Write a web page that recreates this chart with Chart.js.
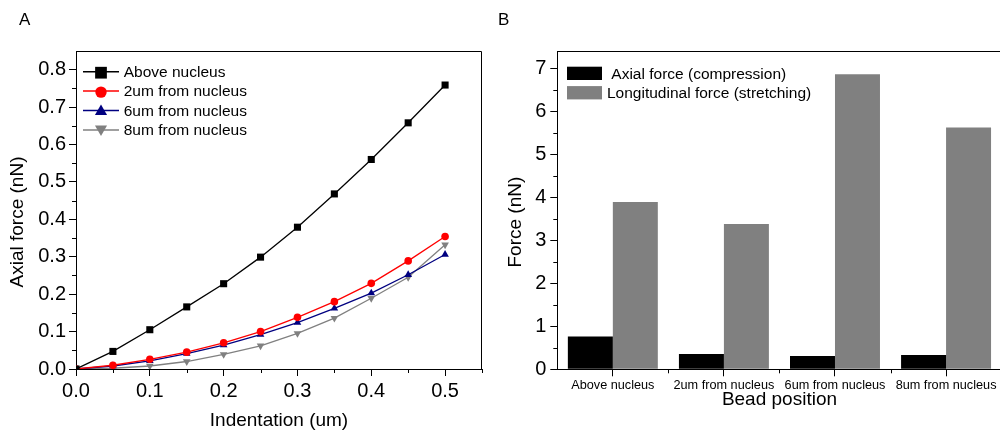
<!DOCTYPE html>
<html>
<head>
<meta charset="utf-8">
<script src="https://cdn.jsdelivr.net/npm/chart.js@4.4.1/dist/chart.umd.min.js"></script>
<style>
  html, body { margin: 0; padding: 0; background: #fff; overflow: hidden; }
  #wrap { position: relative; width: 1000px; height: 432px; overflow: hidden; }
  canvas { position: absolute; top: 0; }
  #chartA { left: 0; }
  #chartB { left: 500px; }
  .panel { position: absolute; top: 10px; font: 17px 'Liberation Sans', Arial, sans-serif; color: #000; }
</style>
</head>
<body>
<div id="wrap">
  <canvas id="chartA" width="500" height="432"></canvas>
  <canvas id="chartB" width="530" height="432"></canvas>
  <div class="panel" style="left:19px">A</div>
  <div class="panel" style="left:498px">B</div>
</div>
<script>
// panel A: axial force vs indentation
const indentation = [0, 0.05, 0.1, 0.15, 0.2, 0.25, 0.3, 0.35, 0.4, 0.45, 0.5];
const aboveNucleus = [0, 0.047, 0.105, 0.166, 0.228, 0.299, 0.379, 0.468, 0.56, 0.658, 0.759];
const from2um = [0, 0.01, 0.026, 0.045, 0.07, 0.1, 0.138, 0.18, 0.229, 0.289, 0.354];
const from6um = [0, 0.008, 0.022, 0.041, 0.064, 0.092, 0.124, 0.162, 0.203, 0.252, 0.306];
const from8um = [0, 0.002, 0.008, 0.02, 0.039, 0.062, 0.095, 0.136, 0.189, 0.245, 0.332];
const seriesNames = ['Above nucleus', '2um from nucleus', '6um from nucleus', '8um from nucleus'];

// panel B: forces per bead position
const beadPositions = ['Above nucleus', '2um from nucleus', '6um from nucleus', '8um from nucleus'];
const axialForce = [0.76, 0.357, 0.31, 0.333];
const longitudinalForce = [3.89, 3.38, 6.86, 5.62];
const barNames = [' Axial force (compression)', 'Longitudinal force (stretching)'];

Chart.defaults.font.family = "'Liberation Sans', Arial, sans-serif";
Chart.defaults.color = '#000';

const toPoints = ys => ys.map((y, i) => ({ x: indentation[i], y: y }));

// frame on top/right + short minor ticks outside the axes
const frameTicks = {
  id: 'frameTicks',
  afterDraw(chart, args, opts) {
    const { ctx, chartArea: a, scales: { x, y } } = chart;
    ctx.save();
    ctx.strokeStyle = '#000';
    ctx.lineWidth = 1;
    ctx.beginPath();
    const top = Math.round(a.top) + 0.5, right = Math.round(a.right) - 0.5;
    ctx.moveTo(Math.round(a.left), top);
    ctx.lineTo(right, top);
    ctx.lineTo(right, Math.round(a.bottom));
    (opts.yMinor || []).forEach(v => {
      const py = Math.round(y.getPixelForValue(v)) + 0.5;
      ctx.moveTo(a.left - 4, py); ctx.lineTo(a.left, py);
    });
    (opts.xMinor || []).forEach(v => {
      const px = Math.round(x.getPixelForValue(v)) + 0.5;
      ctx.moveTo(px, a.bottom); ctx.lineTo(px, a.bottom + 4);
    });
    ctx.stroke();
    // y axis title, sits a little below the middle of the plot in the original
    if (opts.yTitle) {
      ctx.translate(opts.yTitleX, (a.top + a.bottom) / 2 + 12);
      ctx.rotate(-Math.PI / 2);
      ctx.font = "19px 'Liberation Sans', Arial, sans-serif";
      ctx.fillStyle = '#000';
      ctx.textAlign = 'center';
      ctx.textBaseline = 'middle';
      ctx.fillText(opts.yTitle, 0, 0);
    }
    ctx.restore();
  }
};

function drawMarker(ctx, style, x, y, r, color, rotated) {
  ctx.fillStyle = color;
  ctx.beginPath();
  if (style === 'rect') {
    const s = r * Math.SQRT1_2;
    ctx.rect(x - s, y - s, 2 * s, 2 * s);
  } else if (style === 'circle') {
    ctx.arc(x, y, r, 0, Math.PI * 2);
  } else {
    const d = rotated ? -1 : 1;
    ctx.moveTo(x, y - d * r);
    ctx.lineTo(x + r * 0.866, y + d * r * 0.5);
    ctx.lineTo(x - r * 0.866, y + d * r * 0.5);
    ctx.closePath();
  }
  ctx.fill();
}

// legend inside plot A: line + marker + text
const lineLegend = {
  id: 'lineLegend',
  afterDraw(chart) {
    const ctx = chart.ctx;
    ctx.save();
    ctx.font = "15.5px 'Liberation Sans', Arial, sans-serif";
    ctx.textBaseline = 'middle';
    chart.data.datasets.forEach((ds, i) => {
      const y = 71.7 + i * 19.4;
      ctx.strokeStyle = ds.borderColor;
      ctx.lineWidth = 1.5;
      ctx.beginPath();
      ctx.moveTo(83, y); ctx.lineTo(119, y);
      ctx.stroke();
      const r = ds.pointStyle === 'rect' ? 8.3 : ds.pointStyle === 'circle' ? 5.7 : 7;
      drawMarker(ctx, ds.pointStyle, 101, y + (ds.pointRotation ? -1 : 1), r, ds.borderColor, !!ds.pointRotation);
      ctx.fillStyle = '#000';
      ctx.fillText(ds.label, 123.7, y + 1);
    });
    ctx.restore();
  }
};

// legend inside plot B: filled boxes + text
const boxLegend = {
  id: 'boxLegend',
  afterDraw(chart) {
    const ctx = chart.ctx;
    ctx.save();
    ctx.font = "15.5px 'Liberation Sans', Arial, sans-serif";
    ctx.textBaseline = 'middle';
    chart.data.datasets.forEach((ds, i) => {
      const y = 73.3 + i * 19.4;
      ctx.fillStyle = ds.backgroundColor;
      ctx.fillRect(67, y - 6.6, 35, 13.3);
      ctx.fillStyle = '#000';
      ctx.fillText(ds.label, 107, y + 1);
    });
    ctx.restore();
  }
};

const axisCommon = {
  grid: { drawOnChartArea: false, drawTicks: true, tickLength: 7, color: '#000', tickColor: '#000' },
  border: { display: true, color: '#000', width: 1 }
};

const lineStyles = [
  { color: '#000000', style: 'rect', r: 5, rot: 0 },
  { color: '#ff0000', style: 'circle', r: 3.8, rot: 0 },
  { color: '#000080', style: 'triangle', r: 4.4, rot: 0 },
  { color: '#808080', style: 'triangle', r: 4.4, rot: 180 }
];
const seriesData = [aboveNucleus, from2um, from6um, from8um];

new Chart(document.getElementById('chartA'), {
  type: 'line',
  data: {
    datasets: seriesData.map((ys, i) => ({
      label: seriesNames[i],
      data: toPoints(ys),
      borderColor: lineStyles[i].color,
      backgroundColor: lineStyles[i].color,
      pointBackgroundColor: lineStyles[i].color,
      pointBorderColor: lineStyles[i].color,
      pointStyle: lineStyles[i].style,
      pointRadius: lineStyles[i].r,
      pointRotation: lineStyles[i].rot,
      pointBorderWidth: 0,
      borderWidth: 1.3,
      tension: 0,
      fill: false
    }))
  },
  options: {
    responsive: false,
    animation: false,
    layout: { padding: { left: 0, top: 51, right: 18, bottom: 0 } },
    plugins: {
      legend: { display: false },
      tooltip: { enabled: false },
      frameTicks: {
        yMinor: [0.05, 0.15, 0.25, 0.35, 0.45, 0.55, 0.65, 0.75],
        xMinor: [0.05, 0.15, 0.25, 0.35, 0.45, 0.55],
        yTitle: 'Axial force (nN)', yTitleX: 18
      }
    },
    scales: {
      x: {
        type: 'linear', min: 0, max: 0.55,
        ...axisCommon,
        ticks: { stepSize: 0.1, includeBounds: false, padding: 3, font: { size: 20 }, maxRotation: 0,
                 callback: v => v.toFixed(1) },
        title: { display: true, text: 'Indentation (um)', font: { size: 19 }, padding: { top: 0, bottom: 0 } },
        afterFit(s) { s.height = 63; }
      },
      y: {
        min: 0, max: 0.85,
        ...axisCommon,
        ticks: { stepSize: 0.1, includeBounds: false, padding: 3, font: { size: 20 },
                 callback: v => v.toFixed(1) },
        afterFit(s) { s.width = 76; }
      }
    }
  },
  plugins: [frameTicks, lineLegend]
});

new Chart(document.getElementById('chartB'), {
  type: 'bar',
  data: {
    labels: beadPositions,
    datasets: [
      { label: barNames[0], data: axialForce, backgroundColor: '#000000', borderWidth: 0 },
      { label: barNames[1], data: longitudinalForce, backgroundColor: '#808080', borderWidth: 0 }
    ]
  },
  options: {
    responsive: false,
    animation: false,
    categoryPercentage: 0.81,
    barPercentage: 1,
    layout: { padding: { left: 0, top: 51, right: 28.4, bottom: 0 } },
    plugins: {
      legend: { display: false },
      tooltip: { enabled: false },
      frameTicks: {
        yMinor: [0.5, 1.5, 2.5, 3.5, 4.5, 5.5, 6.5],
        xMinor: [0.5, 1.5, 2.5],
        yTitle: 'Force (nN)', yTitleX: 16
      }
    },
    scales: {
      x: {
        offset: true,
        ...axisCommon,
        grid: { ...axisCommon.grid, offset: false },
        ticks: { padding: 2, font: { size: 12.7 }, maxRotation: 0, autoSkip: false },
        title: { display: true, text: 'Bead position', font: { size: 19 }, padding: { top: 0, bottom: 21 } },
        afterFit(s) { s.height = 62.7; }
      },
      y: {
        min: 0, max: 7.4,
        ...axisCommon,
        ticks: { stepSize: 1, includeBounds: false, padding: 4, font: { size: 20 } },
        afterFit(s) { s.width = 57.3; }
      }
    }
  },
  plugins: [frameTicks, boxLegend]
});
</script>
</body>
</html>
